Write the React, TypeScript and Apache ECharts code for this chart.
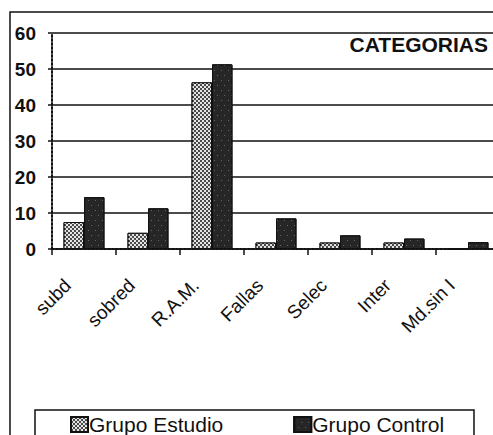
import React, { useEffect, useRef } from "react";
import * as echarts from "echarts";

const categories = ["subd", "sobred", "R.A.M.", "Fallas", "Selec", "Inter", "Md.sin I"];
const grupoEstudio = [7.5, 4.5, 46.3, 1.8, 1.8, 1.8, 0];
const grupoControl = [14.4, 11.3, 51.3, 8.5, 3.8, 2.9, 1.9];
const yTicks = { min: 0, max: 60, interval: 10 };
const titleText = "CATEGORIAS";

const FONT = "Arial, 'Liberation Sans', Helvetica, sans-serif";

export default function App() {
  const ref = useRef<HTMLDivElement>(null);
  useEffect(() => {
    if (!ref.current) return;
    const chart = echarts.init(ref.current, null, { renderer: "svg" });
    chart.setOption({
      animation: false,
      backgroundColor: "#ffffff",
      textStyle: { fontFamily: FONT, color: "#000" },
      title: {
        text: titleText,
        right: 5,
        top: 34,
        padding: 0,
        textStyle: { fontFamily: FONT, fontSize: 21, fontWeight: "bold", color: "#111" },
      },
      graphic: [
        {
          type: "rect",
          shape: { x: 10, y: 12, width: 600, height: 500 },
          style: { fill: "none", stroke: "#111", lineWidth: 1.5 },
          z: 0,
          silent: true,
        },
        {
          type: "rect",
          shape: { x: 35, y: 410, width: 439, height: 60 },
          style: { fill: "none", stroke: "#111", lineWidth: 1.5 },
          z: 0,
          silent: true,
        },
      ],
      legend: {
        left: 70,
        top: 414,
        padding: 0,
        itemGap: 70,
        itemWidth: 17,
        itemHeight: 15,
        icon: "rect",
        textStyle: { fontFamily: FONT, fontSize: 21, color: "#111", padding: [0, 0, 0, -4] },
        data: ["Grupo Estudio", "Grupo Control"],
      },
      grid: {
        left: 52,
        top: 33,
        right: -7,
        bottom: 186,
        outerBoundsMode: "none",
        containLabel: false,
      },
      xAxis: {
        type: "category",
        data: categories,
        axisLine: { lineStyle: { color: "#111", width: 2, type: "dotted" } },
        axisTick: { show: true, length: 6, inside: false, lineStyle: { color: "#111", width: 1.5 } },
        axisLabel: {
          rotate: 45,
          margin: 17,
          fontSize: 19,
          fontFamily: FONT,
          color: "#111",
          interval: 0,
          padding: [0, 23, 0, 0],
        },
      },
      yAxis: {
        type: "value",
        min: yTicks.min,
        max: yTicks.max,
        interval: yTicks.interval,
        axisLine: { show: true, lineStyle: { color: "#111", width: 2, type: "dotted" } },
        axisTick: { show: true, length: 4, lineStyle: { color: "#111", width: 1.5 } },
        splitLine: { show: true, lineStyle: { color: "#111", width: 1.5 } },
        axisLabel: {
          fontSize: 19,
          fontWeight: "bold",
          fontFamily: FONT,
          color: "#111",
          margin: 16,
        },
      },
      series: [
        {
          name: "Grupo Estudio",
          type: "bar",
          data: grupoEstudio,
          barGap: "0%",
          barCategoryGap: "36%",
          itemStyle: {
            color: "#4a4a4a",
            borderColor: "#111",
            borderWidth: 1,
            decal: {
              symbol: "rect",
              symbolSize: 1,
              color: "#e4e4e4",
              dashArrayX: [[2, 2], [0, 2, 2, 0]],
              dashArrayY: [2, 0],
              rotation: 0,
            },
          },
        },
        {
          name: "Grupo Control",
          type: "bar",
          data: grupoControl,
          barGap: "0%",
          barCategoryGap: "36%",
          itemStyle: {
            color: "#262626",
            borderColor: "#111",
            borderWidth: 1,
            decal: {
              symbol: "rect",
              symbolSize: 1,
              color: "#666",
              dashArrayX: [[1, 6], [0, 4, 1, 2]],
              dashArrayY: [1, 4],
              rotation: 0,
            },
          },
        },
      ],
    });
    return () => chart.dispose();
  }, []);
  return (
    <div
      ref={ref}
      style={{ position: "absolute", left: 0, top: 0, width: 493, height: 435 }}
    />
  );
}
